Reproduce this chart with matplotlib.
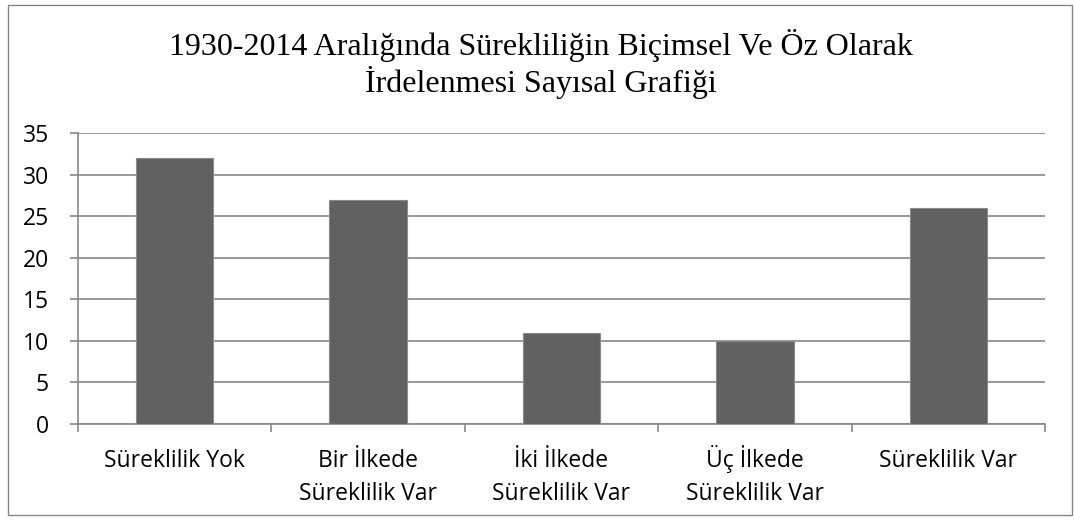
import matplotlib
matplotlib.use("Agg")
import matplotlib.pyplot as plt
import matplotlib.transforms as mtransforms
from matplotlib.patches import Rectangle

title_lines = ["1930-2014 Aralığında Sürekliliğin Biçimsel Ve Öz Olarak",
               "İrdelenmesi Sayısal Grafiği"]
categories = ["Süreklilik Yok", "Bir İlkede\nSüreklilik Var", "İki İlkede\nSüreklilik Var",
              "Üç İlkede\nSüreklilik Var", "Süreklilik Var"]
values = [32, 27, 11, 10, 26]
yticks = [0, 5, 10, 15, 20, 25, 30, 35]

W, H = 1074, 520
fig = plt.figure(figsize=(W / 100, H / 100), dpi=100)
fig.patch.set_facecolor("white")

# outer chart frame
fig.add_artist(Rectangle((8 / W, 5 / H), (1072 - 8) / W, (515 - 5) / H,
                         transform=fig.transFigure, fill=False,
                         edgecolor="#868686", linewidth=1.0))

ax = fig.add_axes([78 / W, (H - 424) / H, (1045 - 78) / W, (424 - 133) / H])

x = list(range(len(categories)))
ax.bar(x, values, width=0.4, color="#616161", edgecolor="#8a8a8a", linewidth=0.8, zorder=3)

ax.set_xlim(-0.5, len(categories) - 0.5)
ax.set_ylim(0, 35)
ax.set_yticks(yticks)
ax.set_yticklabels([str(v) for v in yticks], fontsize=16.5, family="Open Sans")
ax.yaxis.grid(True, color="#878787", linewidth=1.2, zorder=0)
ax.set_axisbelow(True)

# category boundaries carry the tick marks; labels sit at the category centres
ax.set_xticks([i + 0.5 for i in range(-1, len(categories))])
ax.set_xticklabels([])
ax.tick_params(axis="x", length=6, color="#878787", width=1.2, direction="out")
ax.tick_params(axis="y", length=6, color="#878787", width=1.2, pad=15)

base = ax.get_xaxis_transform()
for i, label in zip(x, categories):
    for j, line in enumerate(label.split("\n")):
        off = mtransforms.ScaledTranslation(0, -(0.43 + 0.33 * j), fig.dpi_scale_trans)
        ax.text(i, 0, line, transform=base + off, ha="center", va="baseline",
                fontsize=16.5, family="Open Sans", clip_on=False)

for s in ["top", "right"]:
    ax.spines[s].set_visible(False)
for s in ["left", "bottom"]:
    ax.spines[s].set_color("#878787")
    ax.spines[s].set_linewidth(1.2)

for yb, line in zip([55, 92], title_lines):
    fig.text(541 / W, 1 - yb / H, line, ha="center", va="baseline", fontsize=23,
             family="Liberation Serif")

fig.savefig("out.png", dpi=100)
